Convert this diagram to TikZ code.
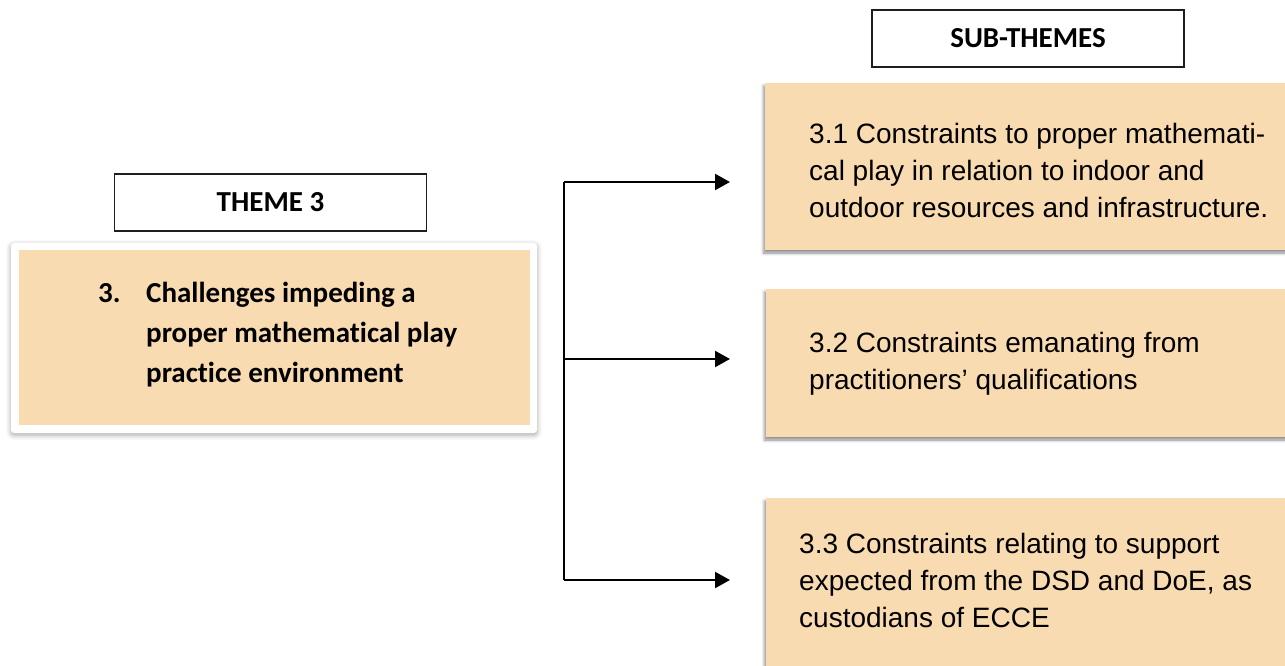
\documentclass[tikz,border=0pt]{standalone}
\usepackage{fontspec}
\setmainfont{Liberation Sans}
\newfontfamily\calibrifont[Ligatures=NoCommon]{Carlito}
\usetikzlibrary{arrows.meta,shadows.blur}

\definecolor{peach}{RGB}{249,219,177}
\definecolor{framegray}{RGB}{30,30,30}

\tikzset{
  headbox/.style={draw=framegray, line width=1.2pt, fill=white, inner sep=0pt,
    minimum width=312pt, minimum height=57pt,
    font=\calibrifont\bfseries\fontsize{29}{32}\selectfont},
  subbox/.style={fill=peach, inner sep=0pt,
    blur shadow={shadow xshift=-1.5pt, shadow yshift=-3pt,
      shadow blur radius=3pt, shadow opacity=45}},
  subtext/.style={anchor=base west, inner sep=0pt, align=left,
    font=\fontsize{28}{37}\selectfont},
  themetext/.style={anchor=base west, inner sep=0pt, align=left,
    font=\calibrifont\bfseries\fontsize{29}{40}\selectfont},
  link/.style={line width=2.2pt, -{Triangle[length=15pt,width=16pt]}},
  spine/.style={line width=2.2pt},
}

\begin{document}
\begin{tikzpicture}[x=1pt,y=-1pt]
  \useasboundingbox (0,0) rectangle (1285,666);
  \clip (0,0) rectangle (1285,666);

  % column headings
  \node[headbox] (subhead) at (1028,38.5) {SUB-THEMES};
  \node[headbox] (themehead) at (270.5,202.5) {THEME 3};

  % main theme card (text anchored on its last line)
  \node[fill=white, rounded corners=3pt, inner sep=0pt,
        minimum width=526pt, minimum height=190pt,
        blur shadow={shadow xshift=0pt, shadow yshift=-2pt,
          shadow blur radius=5pt, shadow opacity=35}]
        (card) at (274,338) {};
  \node[fill=peach, inner sep=0pt, minimum width=511pt, minimum height=175pt]
        (theme) at (274.5,337.5) {};
  \node[themetext] (themelabel) at (146,382)
    {\llap{\makebox[48pt][l]{3.}}Challenges impeding a\\
     proper mathematical play\\
     practice environment};

  % sub-theme boxes
  \node[subbox, minimum width=540pt, minimum height=167pt] (s1) at (1035,166.5) {};
  \node[subtext] (s1text) at (809,217)
    {3.1 Constraints to proper mathemati-\\
     cal play in relation to indoor and\\
     outdoor resources and infrastructure.};

  \node[subbox, minimum width=540pt, minimum height=148pt] (s2) at (1036,363) {};
  \node[subtext] (s2text) at (809,389)
    {3.2 Constraints emanating from\\
     practitioners’ qualifications};

  \node[subbox, minimum width=540pt, minimum height=200pt] (s3) at (1036,598) {};
  \node[subtext] (s3text) at (799,627)
    {3.3 Constraints relating to support\\
     expected from the DSD and DoE, as\\
     custodians of ECCE};

  % branching connector
  \coordinate (top) at (564,182);
  \coordinate (mid) at (564,359);
  \coordinate (bot) at (564,580);
  \coordinate (e1) at (730,182);
  \coordinate (e2) at (730,359);
  \coordinate (e3) at (730,580);
  \draw[spine] (top) -- (bot);
  \draw[link] (top) -- (e1);
  \draw[link] (mid) -- (e2);
  \draw[link] (bot) -- (e3);
\end{tikzpicture}
\end{document}
